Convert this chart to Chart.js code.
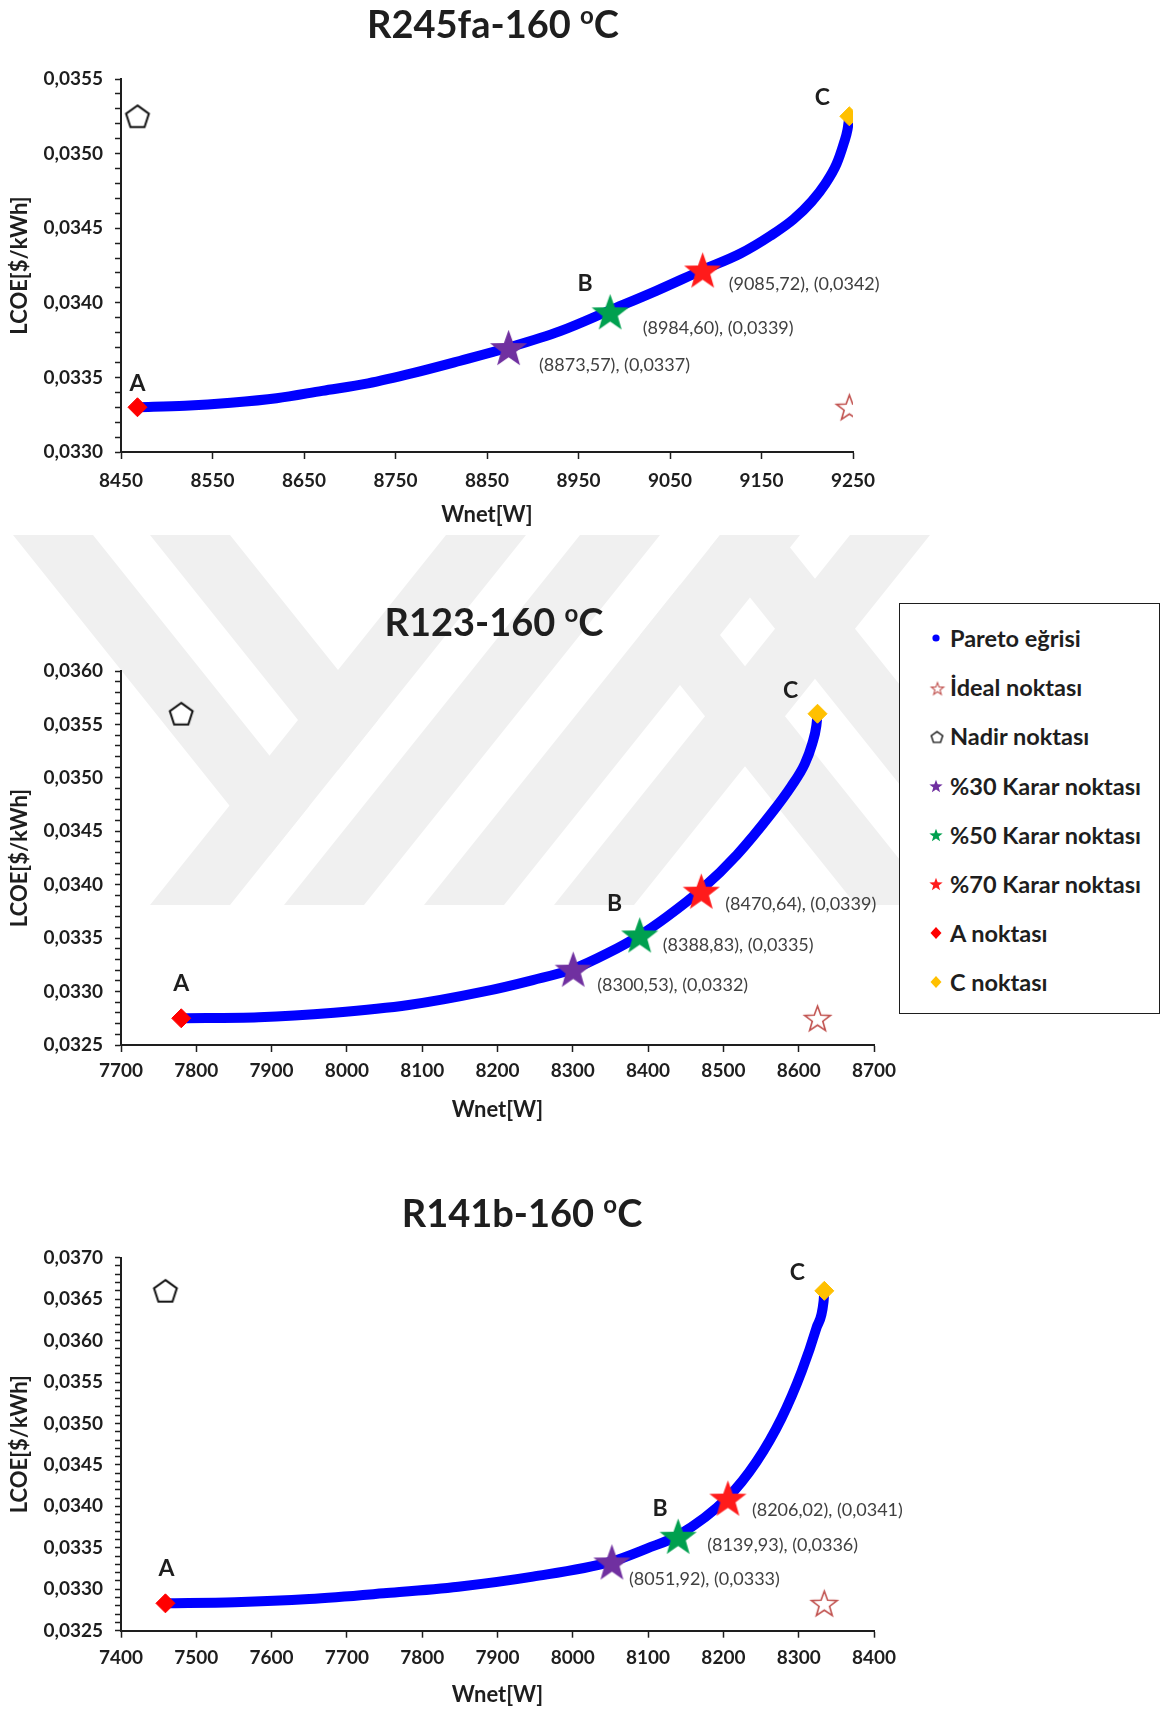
<!DOCTYPE html>
<html lang="tr">
<head>
<meta charset="utf-8">
<title>Pareto eğrileri – LCOE / Wnet</title>
<script src="https://cdn.jsdelivr.net/npm/chart.js@4.4.1/dist/chart.umd.min.js"></script>
<style>
  html, body { margin: 0; padding: 0; background: #fff; }
  #page { position: relative; width: 1161px; height: 1710px; overflow: hidden; background: #fff; }
  #mark { position: absolute; left: 0; top: 0; z-index: 0; }
  .panel { position: absolute; left: 0; z-index: 1; }
  #legend { position: absolute; left: 899px; top: 603px; width: 261px; height: 411px; box-sizing: border-box;
            border: 1.5px solid #1e1e1e; background: #fff; z-index: 2;
            font-family: Lato, 'Open Sans', sans-serif; font-weight: 700; font-size: 23.5px; color: #1e1e1e; }
  #legend .row { position: absolute; left: 0; width: 100%; height: 30px; }
  #legend canvas { position: absolute; left: 24px; top: 3px; }
  #legend span { position: absolute; left: 50px; top: 0; line-height: 30px; white-space: nowrap; }
</style>
</head>
<body>
<div id="page">
  <canvas id="mark" width="1161" height="1710"></canvas>
  <canvas id="c1" class="panel"></canvas>
  <canvas id="c2" class="panel"></canvas>
  <canvas id="c3" class="panel"></canvas>
  <div id="legend"></div>
</div>
<script>
// ---------------------------------------------------------------------------
// Data
// ---------------------------------------------------------------------------
const legendLabels = ['Pareto eğrisi', 'İdeal noktası', 'Nadir noktası',
  '%30 Karar noktası', '%50 Karar noktası', '%70 Karar noktası', 'A noktası', 'C noktası'];
const pointLetters = ['A', 'B', 'C'];
const xAxisTitle = 'Wnet[W]';
const yAxisTitle = 'LCOE[$/kWh]';

// R245fa, 160 °C
const r245faTitle = ['R245fa-160 ', 'o', 'C'];
const r245faXRange = [8450, 9250];
const r245faYRange = [0.0330, 0.0355];
const r245faParetoW = [8468, 8520, 8570, 8620, 8670, 8720, 8770, 8820, 8873.6, 8930, 8984.6, 9035, 9085.7,
  9127, 9160, 9185, 9205, 9220, 9232, 9240, 9244, 9246];
const r245faParetoLCOE = [0.03330, 0.03331, 0.03333, 0.03336, 0.03341, 0.03346, 0.03353, 0.03361, 0.03370,
  0.03381, 0.03395, 0.03408, 0.03422, 0.03433, 0.03445, 0.03456, 0.03468, 0.03480, 0.03493, 0.03507,
  0.03516, 0.03525];
const r245faDecisionW = [8873.57, 8984.60, 9085.72];
const r245faDecisionLCOE = [0.03370, 0.03394, 0.03422];
const r245faA = [8468, 0.03330];
const r245faC = [9246, 0.03525];
const r245faIdeal = [9246, 0.03330];
const r245faNadir = [8468, 0.03525];

// R123, 160 °C
const r123Title = ['R123-160 ', 'o', 'C'];
const r123XRange = [7700, 8700];
const r123YRange = [0.0325, 0.0360];
const r123ParetoW = [7780, 7883, 7983, 8082, 8181, 8247, 8300, 8346, 8390, 8425, 8470, 8518, 8564, 8590,
  8608, 8618, 8623.5, 8625];
const r123ParetoLCOE = [0.03275, 0.032759, 0.032802, 0.032874, 0.032999, 0.033108, 0.03321, 0.033358,
  0.03353, 0.03370, 0.03395, 0.03428, 0.03467, 0.03492, 0.03513, 0.03532, 0.03549, 0.03560];
const r123DecisionW = [8300.53, 8388.83, 8470.64];
const r123DecisionLCOE = [0.03321, 0.03353, 0.03394];
const r123A = [7780, 0.03275];
const r123C = [8625, 0.03560];
const r123Ideal = [8625, 0.03275];
const r123Nadir = [7780, 0.03560];

// R141b, 160 °C
const r141bTitle = ['R141b-160 ', 'o', 'C'];
const r141bXRange = [7400, 8400];
const r141bYRange = [0.0325, 0.0370];
const r141bParetoW = [7459, 7551, 7650, 7749, 7848, 7947, 8050, 8099, 8140, 8205, 8244, 8277, 8304,
  8323.5, 8333, 8334];
const r141bParetoLCOE = [0.03283, 0.032843, 0.032882, 0.032951, 0.033031, 0.033152, 0.03333, 0.033494,
  0.03365, 0.03410, 0.03454, 0.03506, 0.03563, 0.03615, 0.03647, 0.03660];
const r141bDecisionW = [8051.92, 8139.93, 8206.02];
const r141bDecisionLCOE = [0.03333, 0.03364, 0.03410];
const r141bA = [7459, 0.03283];
const r141bC = [8334, 0.03660];
const r141bIdeal = [8334, 0.03283];
const r141bNadir = [7459, 0.03660];

// ---------------------------------------------------------------------------
// Styles
// ---------------------------------------------------------------------------
const FONT = "Lato, 'Open Sans', 'DejaVu Sans', sans-serif";
const INK = '#1e1e1e';
const LABEL_INK = '#404040';
const PARETO_BLUE = '#0000FF';
const DECISION_COLORS = ['#7030A0', '#00A04F', '#FF1B1B'];
const A_COLOR = '#FF0000';
const C_COLOR = '#FFC000';
const IDEAL_COLOR = '#C0504D';
const PANEL_W = 960;

// ---------------------------------------------------------------------------
// Marker images
// ---------------------------------------------------------------------------
function starCanvas(r, fill, stroke, lw) {
  const pad = (lw || 0) + 2;
  const s = Math.ceil(2 * r + 2 * pad);
  const c = document.createElement('canvas');
  c.width = s; c.height = s;
  const g = c.getContext('2d');
  const cx = s / 2, cy = s / 2 + r * 0.095;
  g.beginPath();
  for (let i = 0; i < 10; i++) {
    const ang = -Math.PI / 2 + i * Math.PI / 5;
    const rr = i % 2 ? r * 0.41 : r;
    g.lineTo(cx + rr * Math.cos(ang), cy + rr * Math.sin(ang));
  }
  g.closePath();
  if (fill) { g.fillStyle = fill; g.fill(); }
  if (stroke) { g.lineWidth = lw; g.strokeStyle = stroke; g.lineJoin = 'miter'; g.stroke(); }
  return c;
}
function pentagonCanvas(r, stroke, lw) {
  const pad = lw + 2;
  const s = Math.ceil(2 * r + 2 * pad);
  const c = document.createElement('canvas');
  c.width = s; c.height = s;
  const g = c.getContext('2d');
  const cx = s / 2, cy = s / 2 + r * 0.095;
  g.beginPath();
  for (let i = 0; i < 5; i++) {
    const ang = -Math.PI / 2 + i * 2 * Math.PI / 5;
    g.lineTo(cx + r * Math.cos(ang), cy + r * Math.sin(ang));
  }
  g.closePath();
  g.fillStyle = '#fff'; g.fill();
  g.lineWidth = lw; g.strokeStyle = stroke; g.lineJoin = 'miter'; g.stroke();
  return c;
}
const idealImg = starCanvas(13.5, '#fff', IDEAL_COLOR, 1.6);
const nadirImg = pentagonCanvas(12, '#111', 2);
const decisionImgs = DECISION_COLORS.map(col => starCanvas(19.5, col));

// ---------------------------------------------------------------------------
// Watermark (faint logo behind the panels)
// ---------------------------------------------------------------------------
(function drawWatermark() {
  const g = document.getElementById('mark').getContext('2d');
  g.fillStyle = '#f0f0f0';
  const T = 535, B = 905, k = 1.25, w = 80, run = (B - T) / k;
  const fwd = x => [[x, T], [x + w, T], [x + w - run, B], [x - run, B]];
  const bwd = x => [[x, T], [x + w, T], [x + w + run, B], [x + run, B]];
  const fill = pts => { g.beginPath(); pts.forEach(([px, py], i) => i ? g.lineTo(px, py) : g.moveTo(px, py)); g.closePath(); g.fill(); };
  const strokes = [446, 580, 720, 850];
  strokes.forEach(x => fill(fwd(x)));
  g.save();
  g.beginPath(); g.moveTo(-10, T); g.lineTo(446 + w, T); g.lineTo(446 + w - run, B); g.lineTo(-10, B); g.closePath(); g.clip();
  [13, 150].forEach(x => fill(bwd(x)));
  g.restore();
  g.save();
  g.beginPath(); g.moveTo(720, T); g.lineTo(1200, T); g.lineTo(1200, B); g.lineTo(720 - run, B); g.closePath(); g.clip();
  [560, 700].forEach(x => fill(bwd(x)));
  g.restore();
})();

// ---------------------------------------------------------------------------
// Panels
// ---------------------------------------------------------------------------
const panels = [
  { id: 'c1', top: 0, height: 540, area: { left: 121, right: 853, top: 79, bottom: 452 },
    titleX: 493, titleY: 24, xTickPad: 10, xTitlePad: 12,
    letterOffsets: [[0, -24], [-25, -28], [-27, -19]],
    valueOffsets: [[30.5, 17.5], [32.5, 16.5], [26, 14]],
    title: r245faTitle, xRange: r245faXRange, yRange: r245faYRange,
    paretoW: r245faParetoW, paretoLCOE: r245faParetoLCOE,
    decisionW: r245faDecisionW, decisionLCOE: r245faDecisionLCOE,
    A: r245faA, C: r245faC, ideal: r245faIdeal, nadir: r245faNadir },
  { id: 'c2', top: 560, height: 575, area: { left: 121, right: 874, top: 671, bottom: 1045 },
    titleX: 494, titleY: 622, xTickPad: 7, xTitlePad: 12,
    letterOffsets: [[0, -35], [-25, -31], [-27, -23]],
    valueOffsets: [[24, 16.5], [23, 10], [24, 13]],
    title: r123Title, xRange: r123XRange, yRange: r123YRange,
    paretoW: r123ParetoW, paretoLCOE: r123ParetoLCOE,
    decisionW: r123DecisionW, decisionLCOE: r123DecisionLCOE,
    A: r123A, C: r123C, ideal: r123Ideal, nadir: r123Nadir },
  { id: 'c3', top: 1150, height: 560, area: { left: 121, right: 874, top: 1257.7, bottom: 1630.7 },
    titleX: 522, titleY: 1213, xTickPad: 9, xTitlePad: 2,
    letterOffsets: [[1, -35], [-18, -28], [-27, -18]],
    valueOffsets: [[17, 17.5], [29, 9], [24, 12]],
    title: r141bTitle, xRange: r141bXRange, yRange: r141bYRange,
    paretoW: r141bParetoW, paretoLCOE: r141bParetoLCOE,
    decisionW: r141bDecisionW, decisionLCOE: r141bDecisionLCOE,
    A: r141bA, C: r141bC, ideal: r141bIdeal, nadir: r141bNadir }
];

const comma = s => s.replace('.', ',');

function decorPlugin(p) {
  return {
    id: 'decor',
    afterDatasetsDraw(chart) {
      const { ctx } = chart;
      const xs = chart.scales.x, ys = chart.scales.y;
      ctx.save();
      // title with superscript "o" before C
      const big = `bold 38px ${FONT}`, small = `bold 24px ${FONT}`;
      ctx.fillStyle = INK;
      ctx.textBaseline = 'alphabetic';
      ctx.textAlign = 'left';
      ctx.font = big;
      const w0 = ctx.measureText(p.title[0]).width;
      const w2 = ctx.measureText(p.title[2]).width;
      ctx.font = small;
      const w1 = ctx.measureText(p.title[1]).width;
      const tx = p.titleX - (w0 + w1 + w2) / 2;
      const base = p.titleY - p.top + 14;
      ctx.font = big; ctx.fillText(p.title[0], tx, base);
      ctx.font = small; ctx.fillText(p.title[1], tx + w0, base - 14);
      ctx.font = big; ctx.fillText(p.title[2], tx + w0 + w1, base);

      // point letters A, B, C
      const anchors = [p.A, [p.decisionW[1], p.decisionLCOE[1]], p.C];
      ctx.font = `bold 23px ${FONT}`;
      ctx.textAlign = 'center';
      ctx.textBaseline = 'middle';
      anchors.forEach((pt, i) => {
        const px = xs.getPixelForValue(pt[0]) + p.letterOffsets[i][0];
        const py = ys.getPixelForValue(pt[1]) + p.letterOffsets[i][1];
        ctx.fillText(pointLetters[i], px, py);
      });

      // decision-point value labels
      ctx.font = `18px ${FONT}`;
      ctx.fillStyle = LABEL_INK;
      ctx.textAlign = 'left';
      p.decisionW.forEach((w, i) => {
        const v = p.decisionLCOE[i];
        const txt = `(${comma(w.toFixed(2))}), (${comma(v.toFixed(4))})`;
        ctx.fillText(txt, xs.getPixelForValue(w) + p.valueOffsets[i][0], ys.getPixelForValue(v) + p.valueOffsets[i][1]);
      });
      ctx.restore();
    }
  };
}

function buildPanel(p) {
  const cv = document.getElementById(p.id);
  cv.width = PANEL_W; cv.height = p.height;
  cv.style.width = PANEL_W + 'px'; cv.style.height = p.height + 'px';
  cv.style.top = p.top + 'px';
  const a = { left: p.area.left, right: p.area.right, top: p.area.top - p.top, bottom: p.area.bottom - p.top };
  const one = arr => [{ x: arr[0], y: arr[1] }];
  const tickFont = { family: FONT, size: 19, weight: 'bold' };
  const titleFont = { family: FONT, size: 22, weight: 'bold' };

  const datasets = [
    { label: legendLabels[0], data: p.paretoW.map((w, i) => ({ x: w, y: p.paretoLCOE[i] })),
      showLine: true, borderColor: PARETO_BLUE, backgroundColor: PARETO_BLUE, borderWidth: 10,
      pointRadius: 0, cubicInterpolationMode: 'monotone', borderCapStyle: 'round', borderJoinStyle: 'round', order: 10 },
    { label: legendLabels[1], data: one(p.ideal), pointStyle: idealImg, pointRadius: 13, order: 1 },
    { label: legendLabels[2], data: one(p.nadir), pointStyle: nadirImg, pointRadius: 12, order: 1 },
    ...p.decisionW.map((w, i) => ({ label: legendLabels[3 + i], data: [{ x: w, y: p.decisionLCOE[i] }],
      pointStyle: decisionImgs[i], pointRadius: 19, order: 0 })),
    { label: legendLabels[6], data: one(p.A), pointStyle: 'rectRot', pointRadius: 9.5,
      backgroundColor: A_COLOR, borderColor: A_COLOR, borderWidth: 1, order: 0 },
    { label: legendLabels[7], data: one(p.C), pointStyle: 'rectRot', pointRadius: 9.5,
      backgroundColor: C_COLOR, borderColor: C_COLOR, borderWidth: 1, order: 0 }
  ];

  return new Chart(cv, {
    type: 'scatter',
    data: { datasets },
    options: {
      responsive: false, animation: false, events: [], devicePixelRatio: 1,
      layout: { padding: { left: 0, top: a.top, right: PANEL_W - a.right, bottom: 0 } },
      plugins: { legend: { display: false }, tooltip: { enabled: false }, title: { display: false } },
      scales: {
        x: {
          type: 'linear', position: 'bottom', min: p.xRange[0], max: p.xRange[1],
          ticks: { stepSize: 100, autoSkip: false, maxRotation: 0, padding: p.xTickPad, color: INK, font: tickFont,
                   callback: v => String(Math.round(v)) },
          grid: { display: true, drawOnChartArea: false, drawTicks: true, tickLength: 7, tickWidth: 1.5, tickColor: INK },
          border: { display: true, color: INK, width: 2 },
          title: { display: true, text: xAxisTitle, color: INK, font: titleFont, padding: { top: 0, bottom: p.xTitlePad } },
          afterFit: s => { s.height = p.height - a.bottom; }
        },
        y: {
          type: 'linear', position: 'left', min: p.yRange[0], max: p.yRange[1],
          ticks: { stepSize: 0.0001, autoSkip: false, padding: 12, color: INK, font: tickFont,
                   callback: v => (Math.round(v * 1e5) % 50 === 0 ? comma(v.toFixed(4)) : '') },
          grid: { display: true, drawOnChartArea: false, drawTicks: true, tickLength: 6, tickWidth: 1.5, tickColor: INK },
          border: { display: true, color: INK, width: 2 },
          title: { display: true, text: yAxisTitle, color: INK, font: titleFont, padding: { top: 7, bottom: 0 } },
          afterFit: s => { s.width = a.left; }
        }
      }
    },
    plugins: [decorPlugin(p)]
  });
}

const charts = panels.map(buildPanel);

// ---------------------------------------------------------------------------
// Shared legend, built from the middle panel's datasets
// ---------------------------------------------------------------------------
(function buildLegend() {
  const box = document.getElementById('legend');
  const firstRow = 34, rowStep = 49.2;
  const ds = charts[1].data.datasets;
  const diamond = col => g => { g.fillStyle = col; g.beginPath(); g.moveTo(12, 6); g.lineTo(17.5, 12); g.lineTo(12, 18); g.lineTo(6.5, 12); g.closePath(); g.fill(); };
  const drawers = [
    g => { g.fillStyle = PARETO_BLUE; g.beginPath(); g.arc(12, 12, 3.6, 0, 2 * Math.PI); g.fill(); },
    g => g.drawImage(starCanvas(6.5, '#fff', IDEAL_COLOR, 1.1), 12 - 8.5, 12 - 8.5),
    g => g.drawImage(pentagonCanvas(6, '#111', 1.4), 12 - 8.5, 12 - 8.5),
    g => g.drawImage(starCanvas(7, DECISION_COLORS[0]), 12 - 9, 12 - 9),
    g => g.drawImage(starCanvas(7, DECISION_COLORS[1]), 12 - 9, 12 - 9),
    g => g.drawImage(starCanvas(7, DECISION_COLORS[2]), 12 - 9, 12 - 9),
    diamond(A_COLOR),
    diamond(C_COLOR)
  ];
  ds.forEach((d, i) => {
    const row = document.createElement('div');
    row.className = 'row';
    row.style.top = (firstRow + i * rowStep - 15) + 'px';
    const c = document.createElement('canvas');
    c.width = 24; c.height = 24;
    drawers[i](c.getContext('2d'));
    const s = document.createElement('span');
    s.textContent = d.label;
    row.appendChild(c); row.appendChild(s);
    box.appendChild(row);
  });
})();
</script>
</body>
</html>
